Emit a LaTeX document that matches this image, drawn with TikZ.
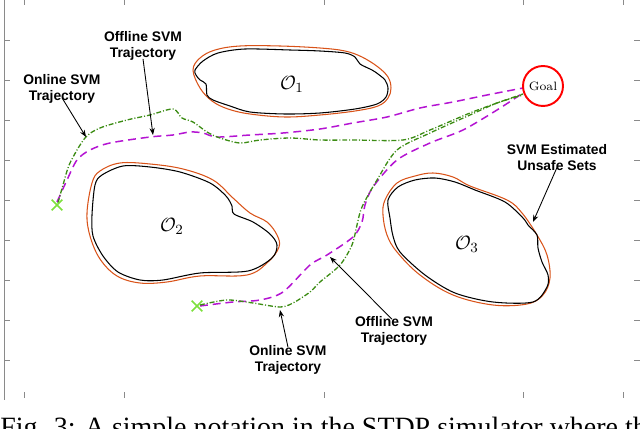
\documentclass[tikz,border=0pt]{standalone}
\usepackage{amsmath,amssymb}
\usepackage{fontspec}
\setsansfont{Liberation Sans}
\newfontfamily\capfont{Liberation Serif}
\usetikzlibrary{arrows.meta,shapes.misc}
\definecolor{unsafe}{HTML}{D95319}
\definecolor{offl}{HTML}{B414D2}
\definecolor{onl}{HTML}{3C8C14}
\definecolor{startc}{HTML}{7CE03C}
\definecolor{axisgray}{HTML}{8A8A8A}

\begin{document}
\begin{tikzpicture}[x=0.02cm,y=-0.02cm,>={Stealth[length=4pt,width=3pt]},
 every node/.style={inner sep=0pt},
 lbl/.style={font=\sffamily\bfseries\fontsize{7.9}{9.1}\selectfont,align=center},
 obs/.style={font=\fontsize{11.4}{13}\selectfont},
 outer/.style={draw=unsafe,line width=0.6pt},
 inner/.style={draw=black,line width=0.6pt},
 offtraj/.style={offl,line width=0.85pt,dash pattern=on 4.5pt off 2.8pt},
 ontraj/.style={onl,line width=0.75pt,dash pattern=on 2.8pt off 1.1pt on 0.6pt off 1.1pt},
 ptr/.style={->,line width=0.5pt}]
\clip (0,0) rectangle (640,429);
% axes
\draw[axisgray,line width=0.5pt] (4,0) -- (4,400);
\foreach \x in {24,124,324,523,623} {
  \draw[axisgray,line width=0.5pt] (\x,0) -- (\x,5);
  \draw[axisgray,line width=0.5pt] (\x,398) -- (\x,392);}
\foreach \y in {40,80,...,360} {
  \draw[axisgray,line width=0.5pt] (4,\y) -- (10,\y);
  \draw[axisgray,line width=0.5pt] (640,\y) -- (634,\y);}
% unsafe sets
\draw[outer] plot[smooth cycle,tension=0.6] coordinates {(193,70) (200,58) (215,50)
  (240,46) (280,46) (320,48) (345,51) (362,57) (378,67) (388,77) (391,88) (388,98)
  (378,106) (355,111) (320,115) (285,117) (250,114) (228,109) (212,101) (200,88)};
\draw[inner] plot[smooth cycle,tension=0.5] coordinates {(195,70) (203,61) (218,53)
  (245,49) (290,50) (320,51) (345,53) (355,57) (360,64) (372,70) (378,74) (385,80)
  (388,88) (386,97) (377,104) (355,109) (320,113) (285,114) (250,112) (230,106)
  (213,100) (207,95) (206,84) (200,80) (196,75)};
\draw[outer] plot[smooth cycle,tension=0.6] coordinates {(92,183) (100,171) (120,163)
  (150,164) (183,169) (213,180) (233,198) (250,213) (267,222) (277,235) (279,247)
  (268,262) (247,275) (200,276) (167,282) (140,283) (117,276) (100,259) (90,236) (87,213)};
\draw[inner] plot[smooth cycle,tension=0.5] coordinates {(95,185) (102,175) (123,166)
  (150,167) (180,172) (210,183) (226,196) (232,206) (234,214) (253,222) (270,234)
  (277,245) (272,258) (248,271) (200,273) (163,280) (140,280) (118,272) (103,256)
  (93,236) (92,215)};
\draw[outer] plot[smooth cycle,tension=0.6] coordinates {(385,200) (397,183) (415,176)
  (433,173) (453,177) (470,186) (507,200) (522,213) (537,235) (547,255) (550,278)
  (543,295) (527,304) (493,305) (453,295) (420,275) (397,252) (387,235) (383,215)};
\draw[inner] plot[smooth cycle,tension=0.5] coordinates {(388,200) (398,187) (415,180)
  (435,178) (455,182) (475,190) (505,202) (523,218) (528,225) (537,235) (538,248)
  (542,262) (548,275) (547,287) (533,302) (493,302) (455,293) (425,275) (400,252)
  (393,236) (390,218)};
\node[obs] (o1) at (292,84) {$\mathcal{O}_1$};
\node[obs] (o2) at (172,226) {$\mathcal{O}_2$};
\node[obs] (o3) at (467,244) {$\mathcal{O}_3$};
% trajectories
\draw[offtraj] plot[smooth,tension=0.5] coordinates {(57,202) (67,180) (77,160) (90,150)
  (110,143) (150,137) (173,135) (190,132) (203,133) (217,137) (250,135) (283,133)
  (320,129) (353,123) (387,117) (420,108) (453,102) (487,95) (523,88)};
\draw[offtraj] plot[smooth,tension=0.5] coordinates {(200,306) (233,302) (260,300)
  (283,292) (310,265) (327,255) (353,237) (362,222) (365,205) (373,187) (397,160)
  (430,143) (463,130) (497,110) (523,93)};
\draw[ontraj] plot[smooth,tension=0.5] coordinates {(58,203) (63,185) (70,163) (85,138)
  (100,128) (127,120) (150,115) (173,109) (182,118) (193,122) (207,132) (220,138)
  (240,143) (260,140) (290,138) (320,140) (353,140) (403,140) (430,130) (470,113)
  (497,103) (523,94)};
\draw[ontraj] plot[smooth,tension=0.5] coordinates {(200,305) (227,300) (253,303)
  (280,307) (293,303) (310,292) (320,282) (340,265) (352,245) (357,225) (362,207)
  (377,180) (397,150) (430,133) (470,115) (497,103) (523,95)};
\node[cross out,draw=startc,line width=0.9pt,minimum size=0.18cm] (s1) at (57,205) {};
\node[cross out,draw=startc,line width=0.9pt,minimum size=0.18cm] (s2) at (197,306) {};
\node[circle,draw=red,line width=1.1pt,minimum size=0.8cm,
  font=\fontsize{6.9}{8}\selectfont] (goal) at (543,86) {Goal};
% annotations
\coordinate (a1) at (153,135);
\coordinate (a2) at (86,137);
\coordinate (a3) at (533,222);
\coordinate (a4) at (280,310);
\coordinate (a5) at (330,257);
\node[lbl] (offtop) at (143,46) {Offline SVM\\Trajectory};
\node[lbl] (ontop) at (62,89) {Online SVM\\Trajectory};
\node[lbl] (unsafe) at (557,158) {SVM Estimated\\Unsafe Sets};
\node[lbl] (onbot) at (288,360) {Online SVM\\Trajectory};
\node[lbl] (offbot) at (394,331) {Offline SVM\\Trajectory};
\draw[ptr] (offtop.south) ++(0,-2) -- (a1);
\draw[ptr] (ontop.south) ++(0,-6) -- (a2);
\draw[ptr] (unsafe.south) ++(0,-4) -- (a3);
\draw[ptr] (onbot.north) ++(0,2) -- (a4);
\draw[ptr] (offbot.north) ++(-2,3) -- (a5);
% caption, cut by the page edge as in the figure
\node[anchor=base west,font=\capfont\fontsize{15.9}{18}\selectfont] (cap) at (0,437)
  {Fig. 3: A simple notation in the STDP simulator where the};
\end{tikzpicture}
\end{document}
